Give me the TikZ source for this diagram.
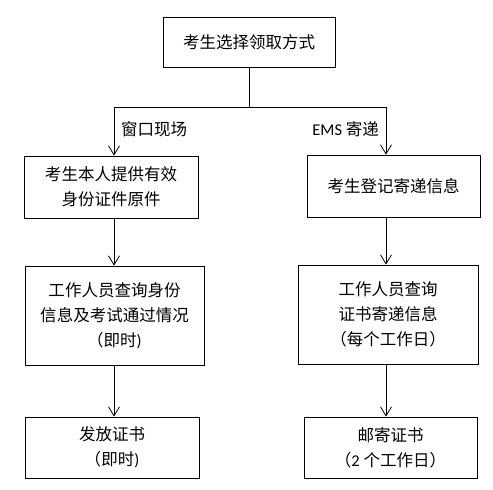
\documentclass[tikz,border=0pt]{standalone}
\usepackage{fontspec}
\setmainfont{Noto Sans CJK SC}
\newfontfamily\lat{Carlito}
\usetikzlibrary{arrows.meta}
\begin{document}
\begin{tikzpicture}[x=1bp,y=-1bp,
  box/.style={draw,line width=0.8bp,rectangle,inner sep=0pt,align=center,
    font=\fontsize{16.5bp}{25bp}\selectfont},
  lbl/.style={inner sep=0pt,font=\fontsize{16.5bp}{25bp}\selectfont},
  conn/.style={line width=0.8bp},
  arr/.style={line width=0.8bp,-{Straight Barb[length=9bp,width=11bp]}}]
\useasboundingbox (0,0) rectangle (493,490);
\fill[white] (0,0) rectangle (493,490);
\node[box,minimum width=172bp,minimum height=50bp] (top) at (249,42) {考生选择领取方式};
\node[box,minimum width=174bp,minimum height=62bp] (l1) at (111,187) {考生本人提供有效\\身份证件原件};
\node[box,minimum width=173bp,minimum height=62bp] (r1) at (393.5,186) {考生登记寄递信息};
\node[box,minimum width=179bp,minimum height=99bp] (l2) at (114.5,315.5) {工作人员查询身份\\信息及考试通过情况\\（即时{\lat )}};
\node[box,minimum width=180bp,minimum height=99bp] (r2) at (388,314.5) {工作人员查询\\证书寄递信息\\（每个工作日）};
\node[box,minimum width=174bp,minimum height=61bp] (l3) at (112,447.5) {发放证书\\（即时{\lat )}};
\node[box,minimum width=173bp,minimum height=61bp] (r3) at (390.5,447.5) {邮寄证书\\（{\lat 2} 个工作日）};
\coordinate (lx) at (114,107);
\coordinate (rx) at (386,107);
\coordinate (mid) at (249,107);
\draw[conn] (top.south) -- (mid);
\draw[conn] (lx) -- (rx);
\draw[arr] (lx) -- (lx |- l1.north);
\draw[arr] (rx) -- (rx |- r1.north);
\draw[arr] (lx |- l1.south) -- (lx |- l2.north);
\draw[arr] (rx |- r1.south) -- (rx |- r2.north);
\draw[arr] (lx |- l2.south) -- (lx |- l3.north);
\draw[arr] (rx |- r2.south) -- (rx |- r3.north);
\node[lbl,anchor=west] (lw) at (121,129) {窗口现场};
\node[lbl,anchor=east] (le) at (379,129) {{\lat EMS} 寄递};
\end{tikzpicture}
\end{document}
